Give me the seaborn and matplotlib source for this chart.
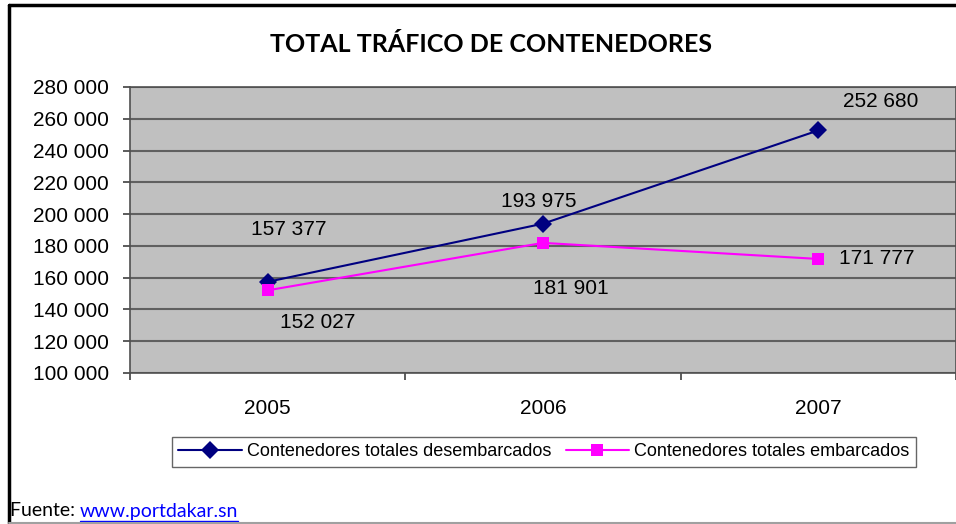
import matplotlib
matplotlib.use("Agg")
import matplotlib.pyplot as plt
import seaborn as sns
import pandas as pd

# datos (fuente: www.portdakar.sn)
anios = ["2005", "2006", "2007"]
desembarcados = [157377, 193975, 252680]
embarcados = [152027, 181901, 171777]
series = ["Contenedores totales desembarcados", "Contenedores totales embarcados"]

def fmt(v):
    return f"{v:,}".replace(",", " ")

df = pd.DataFrame({
    "pos": list(range(len(anios))) * 2,
    "valor": desembarcados + embarcados,
    "serie": [series[0]] * len(anios) + [series[1]] * len(anios),
})

sns.set_style("white")
plt.rcParams["font.family"] = ["Liberation Sans", "DejaVu Sans"]
plt.rcParams["text.color"] = "black"
plt.rcParams["xtick.color"] = "black"
plt.rcParams["ytick.color"] = "black"

fig = plt.figure(figsize=(9.56, 5.24), dpi=100)
ax = fig.add_axes([130 / 956, 151 / 524, 826 / 956, 286 / 524])
ax.set_facecolor("#C0C0C0")

sns.lineplot(data=df, x="pos", y="valor", hue="serie", style="serie",
             palette=["#000080", "#FF00FF"], markers=["D", "s"], dashes=False,
             markersize=9, linewidth=1.5, markeredgewidth=0, ax=ax, legend=False)

# etiquetas de datos (desplazamientos en puntos)
off_des = [(15, 38), (-3, 16), (45, 21)]
off_emb = [(36, -23), (20, -33), (42, 0)]
for i in range(len(anios)):
    ax.annotate(fmt(desembarcados[i]), (i, desembarcados[i]), xytext=off_des[i],
                textcoords="offset points", ha="center", va="center", fontsize=15)
    ax.annotate(fmt(embarcados[i]), (i, embarcados[i]), xytext=off_emb[i],
                textcoords="offset points", ha="center", va="center", fontsize=15)

ax.set_ylim(100000, 280000)
ax.set_yticks(range(100000, 280001, 20000))
ax.set_yticklabels([fmt(v) for v in range(100000, 280001, 20000)], fontsize=15)
ax.yaxis.grid(True, color="#606060", linewidth=1.5)
ax.xaxis.grid(False)

ax.set_xlim(-0.5, 2.5)
ax.set_xticks([-0.5, 0.5, 1.5, 2.5])
ax.set_xticklabels([])
ax.set_xticks([0, 1, 2], minor=True)
ax.set_xticklabels(anios, minor=True, fontsize=15)
ax.tick_params(axis="x", which="minor", length=0, pad=19)
ax.tick_params(axis="both", which="major", length=5, width=1.2, color="#404040", direction="out")
ax.tick_params(axis="y", pad=10)
ax.tick_params(left=True, bottom=True)
ax.set_xlabel("")
ax.set_ylabel("")
for s in ax.spines.values():
    s.set_color("#505050")
    s.set_linewidth(1.2)

fig.text(491 / 956, 1 - 45 / 524, "TOTAL TRÁFICO DE CONTENEDORES", ha="center", va="center",
         fontsize=18, fontweight="bold", family=["Lato", "DejaVu Sans"])

handles = [
    plt.Line2D([], [], color="#000080", marker="D", markersize=9, markeredgewidth=0, linewidth=1.5),
    plt.Line2D([], [], color="#FF00FF", marker="s", markersize=9, markeredgewidth=0, linewidth=1.5),
]
leg = fig.legend(handles, series, loc="center", bbox_to_anchor=(544 / 956, 1 - 452 / 524), ncol=2,
                 fontsize=13, frameon=True, fancybox=False, handlelength=3.5, handletextpad=0.3,
                 columnspacing=0.8, borderpad=0.35)
leg.get_frame().set_edgecolor("#404040")
leg.get_frame().set_linewidth(1)

fuente = fig.text(10 / 956, 1 - 511 / 524, "Fuente: ", ha="left", va="center", fontsize=14,
                  family=["Lato", "DejaVu Sans"])
fig.canvas.draw()
bb = fuente.get_window_extent()
enlace = fig.text(bb.x1 / 956, 1 - 511 / 524, "www.portdakar.sn", ha="left", va="center", fontsize=14,
                  color="#0000FF", family=["Lato", "DejaVu Sans"])
fig.canvas.draw()
bb2 = enlace.get_window_extent()
fig.add_artist(plt.Line2D([bb2.x0 / 956, bb2.x1 / 956], [1 - 521 / 524, 1 - 521 / 524], color="#0000FF", lw=1))

# marco de la figura: izquierda y arriba en negro, abajo en gris
fig.add_artist(plt.Line2D([9 / 956, 9 / 956], [1 - 523 / 524, 1 - 5 / 524], color="black", lw=2.5))
fig.add_artist(plt.Line2D([9 / 956, 1], [1 - 5 / 524, 1 - 5 / 524], color="black", lw=2.5))
fig.add_artist(plt.Line2D([9 / 956, 1], [1 - 523 / 524, 1 - 523 / 524], color="#A0A0A0", lw=1.5))

fig.savefig("out.png", dpi=100)
